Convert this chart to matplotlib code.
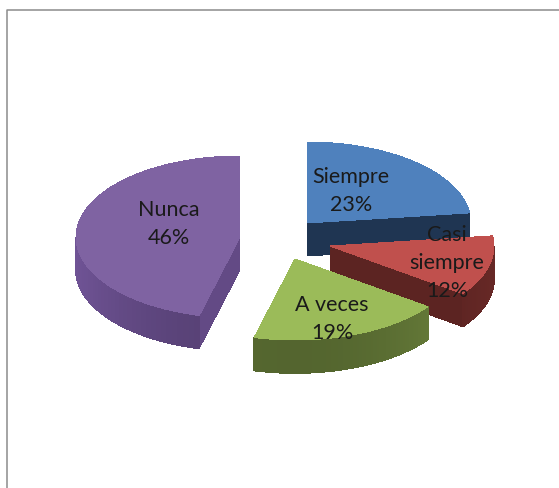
import numpy as np
import matplotlib
matplotlib.use('Agg')
import matplotlib.pyplot as plt
from matplotlib.patches import Polygon
from matplotlib.colors import to_rgb

plt.rcParams['font.family'] = ['Lato', 'DejaVu Sans']

# datos
categorias = ['Siempre', 'Casi\nsiempre', 'A veces', 'Nunca']
porcentajes = [23, 12, 19, 46]

# estilo de cada sector
color_cara = ['#4f81bd', '#c0504d', '#9bbb59', '#7f63a2']
color_lado = ['#1f3552', '#5c2422', '#5f7335', '#634a85']
centros = [(307, 224), (330, 247), (295, 260), (240, 238)]
pos_texto = [(351, 191), (447, 263), (332, 319), (169, 224)]

RX, RY, ALTO = 164, 81, 33
W, H = 559, 489


def punto(c, ang):
    # angulo en grados, horario desde arriba
    a = np.radians(ang)
    return c[0] + RX * np.sin(a), c[1] - RY * np.cos(a)


def oscurecer(col, f):
    return tuple(min(v * f, 1) for v in to_rgb(col))


fig = plt.figure(figsize=(W / 100, H / 100), dpi=100)
ax = fig.add_axes([0, 0, 1, 1])
ax.set_xlim(0, W)
ax.set_ylim(H, 0)
ax.axis('off')

# marco (solo arriba e izquierda)
ax.plot([6.5, 6.5, 559], [489, 10.5, 10.5], color='#8c8c8c', lw=1.1)

inicio = 0
for i in range(len(porcentajes)):
    fin = inicio + porcentajes[i] * 3.6
    c = centros[i]
    angs = np.linspace(inicio, fin, 80)
    borde = [punto(c, a) for a in angs]

    # paredes de los cortes, visibles solo si miran hacia delante
    for extremo in (inicio, fin):
        p = punto(c, extremo)
        mira_delante = (extremo == fin and fin < 180) or (extremo == inicio and inicio > 180)
        if mira_delante:
            ax.add_patch(Polygon([c, p, (p[0], p[1] + ALTO), (c[0], c[1] + ALTO)],
                                 closed=True, fc=color_lado[i], ec='none',
                                 antialiased=False, zorder=2 + i))

    # pared exterior por tramos para dar algo de degradado
    frente = angs[(angs >= 90) & (angs <= 270)]
    for a0, a1 in zip(frente[:-1], frente[1:]):
        p0, p1 = punto(c, a0), punto(c, a1)
        f = 1.0 - 0.12 * np.cos(np.radians(a0 - 180) * 2)
        tono = oscurecer(color_lado[i], f)
        ax.add_patch(Polygon([p0, p1, (p1[0], p1[1] + ALTO), (p0[0], p0[1] + ALTO)],
                             closed=True, fc=tono, ec=tono, lw=0.5,
                             antialiased=False, zorder=2 + i))

    # cara superior
    ax.add_patch(Polygon([c] + borde, closed=True, fc=color_cara[i], ec='none',
                         antialiased=False, zorder=2 + i))
    inicio = fin

for i in range(len(categorias)):
    ax.text(pos_texto[i][0], pos_texto[i][1], '%s\n%d%%' % (categorias[i], porcentajes[i]),
            ha='center', va='center', fontsize=15.5, color='#1a1a1a', linespacing=1.5, zorder=20)

fig.savefig('out.png', dpi=100)
